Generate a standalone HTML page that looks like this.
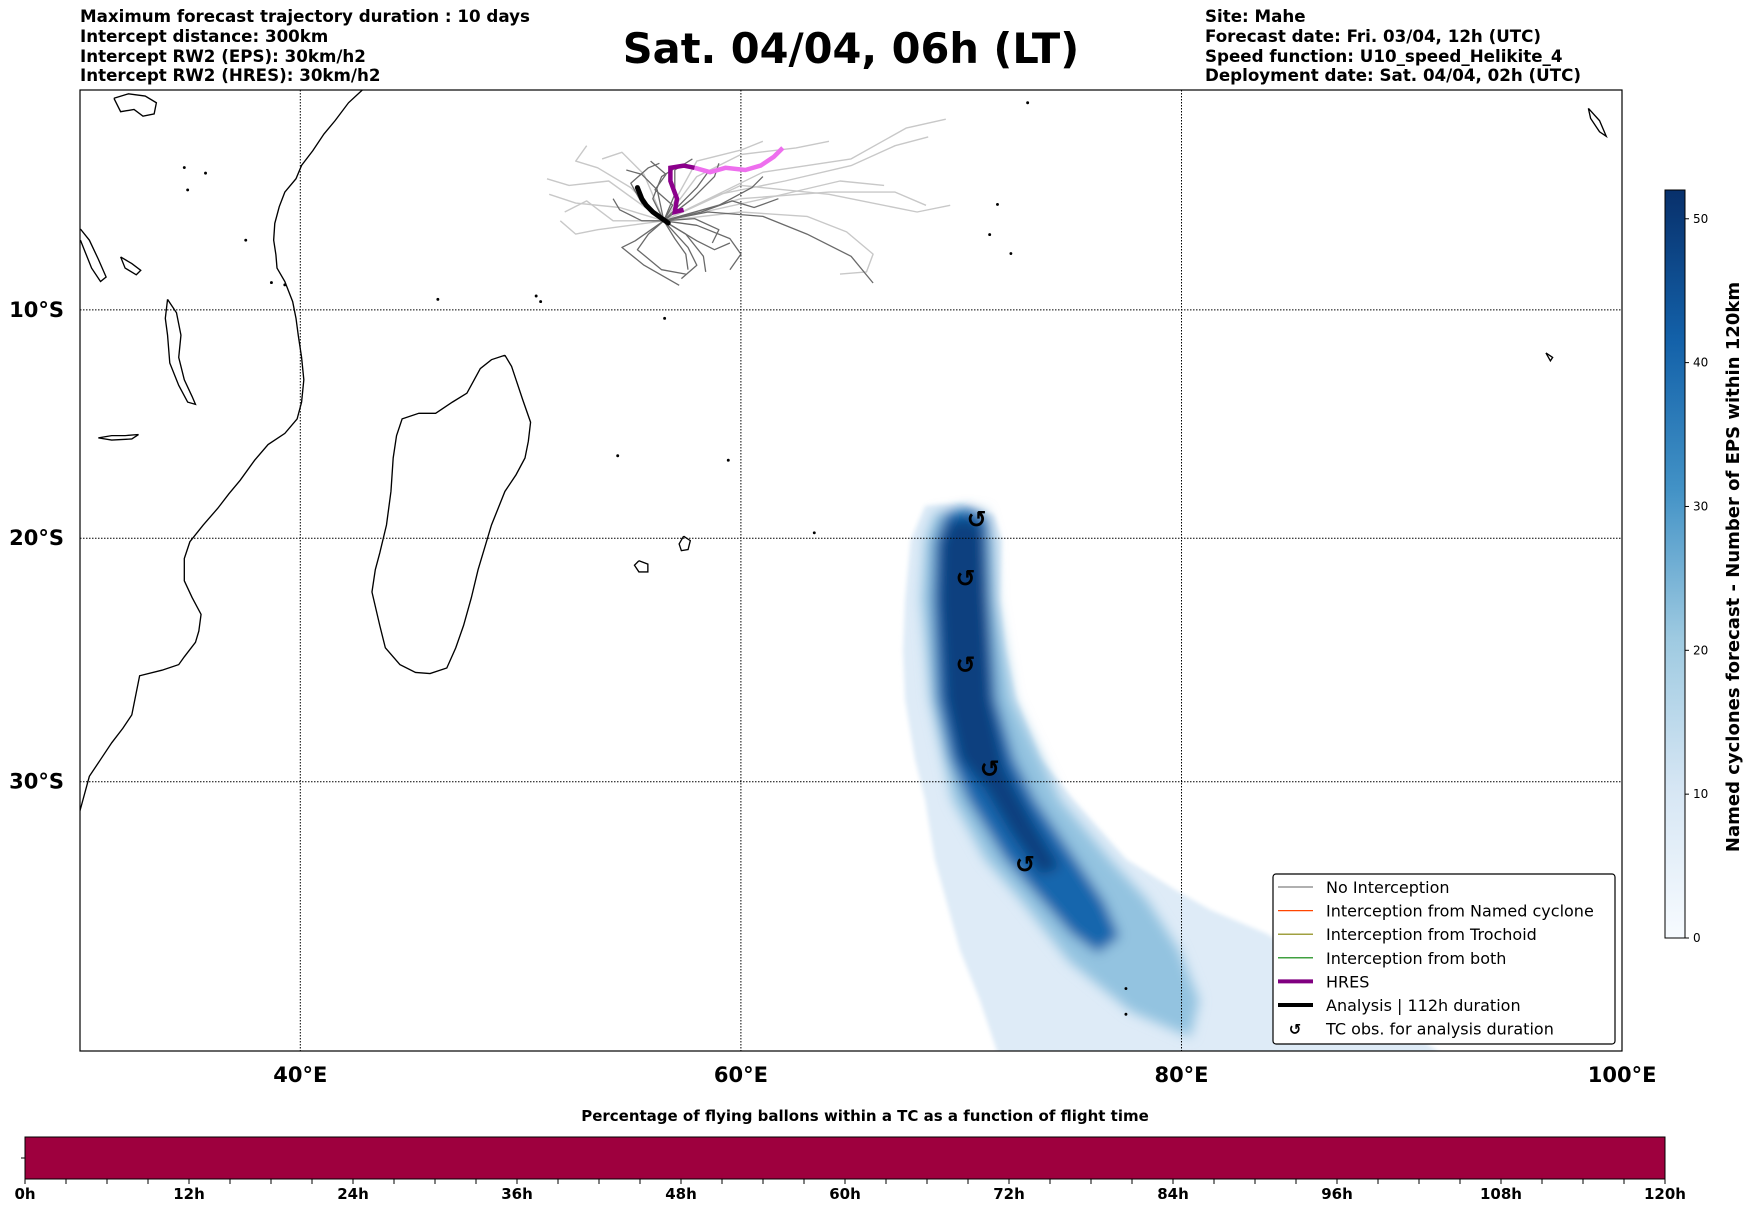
<!DOCTYPE html>
<html><head><meta charset="utf-8"><style>
html,body{margin:0;padding:0;background:#fff;}
svg{display:block;font-family:"Liberation Sans","DejaVu Sans",sans-serif;}
.hd{font-family:"DejaVu Sans","Liberation Sans",sans-serif;font-weight:bold;font-size:16.7px;}
</style></head><body>
<svg id="fig" width="1752" height="1213" viewBox="0 0 1752 1213" xmlns="http://www.w3.org/2000/svg">
<defs>
<filter id="blur" x="-20%" y="-20%" width="140%" height="140%"><feGaussianBlur stdDeviation="6"/></filter>
<filter id="blur2" x="-10%" y="-10%" width="120%" height="120%"><feGaussianBlur stdDeviation="2"/></filter>
<linearGradient id="blues" x1="0" y1="1" x2="0" y2="0">
<stop offset="0" stop-color="#f7fbff"/><stop offset="0.2" stop-color="#d6e6f4"/><stop offset="0.4" stop-color="#9ecae1"/><stop offset="0.6" stop-color="#4292c6"/><stop offset="0.8" stop-color="#1361a9"/><stop offset="1" stop-color="#08306b"/>
</linearGradient>
<clipPath id="mapclip"><rect x="80" y="90" width="1542" height="961"/></clipPath>
</defs>
<g class="hd">
<text x="80" y="22">Maximum forecast trajectory duration : 10 days</text>
<text x="80" y="42">Intercept distance: 300km</text>
<text x="80" y="62">Intercept RW2 (EPS):  30km/h2</text>
<text x="80" y="81">Intercept RW2 (HRES): 30km/h2</text>
</g>
<g class="hd">
<text x="1205" y="22">Site: Mahe</text>
<text x="1205" y="42">Forecast date: Fri. 03/04, 12h (UTC)</text>
<text x="1205" y="62">Speed function: U10_speed_Helikite_4</text>
<text x="1205" y="81">Deployment date: Sat. 04/04, 02h (UTC)</text>
</g>
<text x="851" y="63" text-anchor="middle" style="font-family:'DejaVu Sans',sans-serif;font-weight:bold;font-size:41.5px">Sat. 04/04, 06h (LT)</text>

<g id="map" clip-path="url(#mapclip)"></g>
<rect x="80" y="90" width="1542" height="961" fill="none" stroke="#000" stroke-width="1.2"/>
<g id="axes"></g>
<g id="legend"></g>
<g id="cbar"></g>
<g id="tbar"></g>
</svg>
<script>
// ---- data ----
const lonTicks=[40,60,80,100];
const latTicks=[10,20,30];
const cbarTicks=[0,10,20,30,40,50];
const cbarMax=52;
const timeMajor=[0,12,24,36,48,60,72,84,96,108,120];
const timeMax=120;
const tcObsLon=[70.7,70.2,70.2,71.3,72.9];
const tcObsLat=[-19.2,-21.7,-25.3,-29.5,-33.2];
// density contour polygons (lon, lat)
const densOuter=[[68.36,-18.6],[69.95,-18.5],[71.5,-19.0],[71.85,-20.1],[71.76,-22.6],[72.0,-24.7],[72.5,-26.7],[73.6,-29.1],[75.1,-30.7],[77.5,-33.0],[79.8,-34.2],[81.3,-34.9],[83.9,-35.8],[87.6,-37.8],[92.2,-40.3],[71.76,-40.3],[70.85,-38.2],[69.95,-36.4],[69.3,-34.5],[68.8,-33.0],[68.36,-30.7],[67.9,-29.1],[67.45,-26.7],[67.36,-24.7],[67.45,-22.6],[67.7,-20.1]];
const densMid=[[68.8,-18.9],[71.1,-18.8],[71.5,-20.1],[71.6,-22.6],[72.35,-26.7],[74.5,-30.7],[76.75,-33],[78.4,-34.5],[79.9,-36.4],[80.8,-38.2],[80.4,-39.5],[77.7,-38.6],[74.9,-36.8],[72.67,-34.5],[71.1,-33],[69.6,-30.7],[68.6,-26.7],[68.2,-22.6],[68.36,-20.1]];
const densCore=[[69.3,-18.9],[70.4,-18.7],[71.2,-19.2],[71.3,-22.6],[71.6,-26.7],[72.4,-29.1],[73.35,-30.7],[75.2,-33],[76.5,-34.6],[77.2,-35.9],[76.2,-36.5],[75.0,-35.8],[73.6,-34.5],[72.0,-33],[70.3,-30.7],[69.5,-29.1],[68.9,-26.7],[68.7,-22.6],[68.8,-20.1]];
const densPeak=[[69.4,-19.4],[70.3,-19.1],[70.95,-19.6],[71.1,-22.6],[71.3,-26.7],[72.0,-29.5],[73.3,-31.6],[74.5,-33.3],[73.6,-33.6],[72.2,-31.9],[71.1,-30.3],[69.95,-29.1],[69.3,-26.7],[69.04,-22.6],[69.1,-20.3]];
const hresLon=[57.4,57.0,57.1,56.8,56.8,57.4,57.9];
const hresLat=[-5.5,-5.6,-5.0,-4.2,-3.6,-3.5,-3.6];
const hresPinkLon=[57.9,58.6,59.3,60.2,60.9,61.5,61.9];
const hresPinkLat=[-3.6,-3.8,-3.6,-3.7,-3.5,-3.1,-2.7];
const analysisLon=[55.3,55.5,55.7,56.0,56.7];
const analysisLat=[-4.5,-5.0,-5.3,-5.6,-6.1];
const darkTrajs=[
[[56.5,-6],[55.5,-5.2],[55,-4.3],[55.8,-3.6],[56.3,-3.4]],
[[56.5,-6],[56,-5],[56.4,-4],[57.2,-3.5]],
[[56.5,-6],[57.3,-5.2],[58,-4.5],[58.5,-3.8]],
[[56.5,-6],[57,-6.8],[57.5,-7.5],[57.6,-8.2]],
[[56.5,-6],[55.8,-6.6],[55.3,-7.3],[56.4,-8.2],[57.5,-8.4]],
[[56.5,-6],[58,-6.2],[59.5,-6.8],[60,-7.5],[59.5,-8.2]],
[[56.5,-6],[58.5,-5.6],[61,-5.8],[63,-6.6],[65,-7.6],[66,-8.8]],
[[56.5,-6],[57.8,-5],[58.8,-4],[59,-3.4]],
[[56.5,-6],[55.5,-6],[54.5,-5.5],[54.2,-5]],
[[56.5,-6],[57.5,-6.6],[58.3,-7.6],[58.4,-8.3]],
[[56.5,-6],[57,-4.8],[57,-3.7],[57.8,-3.2]],
[[56.5,-6],[59,-5.3],[60.5,-4.5],[61,-4]],
[[56.5,-6],[58,-6.9],[58.8,-7.3],[59.5,-7]],
[[56.5,-6],[56.2,-4.6],[55.5,-3.9],[54.8,-3.7]],
[[56.5,-6],[55.2,-6.9],[54.6,-7.2],[55.6,-8.0],[57.2,-8.9]],
[[56.5,-6],[56.9,-5.3],[56.1,-4.6],[56.6,-3.9],[55.9,-3.3]],
[[56.5,-6],[58.2,-5.6],[59.6,-5.1],[60.6,-5.4],[61.7,-5.0]],
[[56.5,-6],[57.6,-7.2],[58.0,-8.0],[57.3,-8.6]],
[[56.5,-6],[57.9,-5.9],[59.0,-6.4],[58.7,-7.0]]
];
const lightTrajs=[
[[56.5,-6],[54.5,-5.4],[52.5,-5.2],[51.3,-4.8]],
[[56.5,-6],[55,-4.5],[53.5,-3.6],[52.5,-3.3],[53,-2.6]],
[[56.5,-6],[59,-4.8],[62,-4.2],[65,-3.5],[67,-2.6],[68.5,-2.2]],
[[56.5,-6],[60,-5],[64,-4.7],[67,-4.7],[68.4,-5.3]],
[[56.5,-6],[58,-4],[60,-3],[62.5,-2.7],[64,-2.4]],
[[56.5,-6],[60,-5.6],[63,-5.8],[64.8,-6.5],[66,-7.5],[65.7,-8.3],[64.5,-8.4]],
[[56.5,-6],[53.5,-6.4],[52.5,-6.6],[51.8,-6]],
[[56.5,-6],[60,-4.4],[64,-4.8],[68,-5.6],[69.5,-5.3]],
[[56.5,-6],[58,-3.3],[60,-2.8],[61,-2.4]],
[[56.5,-6],[54,-4.2],[52.2,-4.4],[51.2,-4.1]],
[[56.5,-6],[61,-3.8],[65,-3.2],[67.5,-1.8],[69.3,-1.4]],
[[56.5,-6],[54.2,-6.0],[53.0,-5.1],[52.0,-5.6]],
[[56.5,-6],[55.6,-3.9],[54.6,-2.9],[53.7,-3.2]],
[[56.5,-6],[61.5,-4.9],[64.5,-4.2],[66.5,-4.4]]
];
// ---- projection ----
const X0=80,PXD=22.03,R=PXD*180/Math.PI,Y0=88.4;
function px(lon){return X0+(lon-30)*PXD;}
function merc(lat){const r=Math.abs(lat)*Math.PI/180;return Math.log(Math.tan(Math.PI/4+r/2));}
function py(lat){return Y0+R*merc(lat);}
const NS='http://www.w3.org/2000/svg';
function mk(tag,attrs,parent){const e=document.createElementNS(NS,tag);for(const k in attrs)e.setAttribute(k,attrs[k]);parent.appendChild(e);return e;}
function pathLL(lons,lats){return lons.map((l,i)=>(i?'L':'M')+px(l).toFixed(1)+' '+py(lats[i]).toFixed(1)).join(' ');}
function ptsLL(arr){return arr.map(p=>px(p[0]).toFixed(1)+','+py(p[1]).toFixed(1)).join(' ');}
const map=document.getElementById('map');

// density
const dens=mk('g',{},map);


const o=mk('polygon',{points:ptsLL(densOuter),fill:'#deebf7',filter:'url(#blur2)'},dens);


const inner=mk('g',{filter:'url(#blur)'},dens);
const m1=mk('polygon',{points:ptsLL(densMid),fill:'#93c3e0'},inner);


const c1=mk('polygon',{points:ptsLL(densCore),fill:'#1966ad'},inner);


const c2=mk('polygon',{points:ptsLL(densPeak),fill:'#08407f'},inner);



// grid
lonTicks.forEach(l=>{const g=mk('line',{x1:px(l),x2:px(l),y1:90,y2:1051,stroke:'#000','stroke-width':1,'stroke-dasharray':'1.5,1.5'},map);

});
latTicks.forEach(l=>{const g=mk('line',{x1:80,x2:1622,y1:py(-l),y2:py(-l),stroke:'#000','stroke-width':1,'stroke-dasharray':'1.5,1.5'},map);

});

// coastlines
const coast=mk('g',{transform:'scale(1.117)',fill:'none',stroke:'#000','stroke-width':1.2},map);


const shapes=[
"M325,80 L312,92 300,108 290,120 280,135 270,148 265,160 255,172 250,185 246,200 245,215 247,228 248,240 255,252 262,270 265,285 267,300 270,320 272,340 270,360 266,375 255,388 240,398 228,412 215,430 205,442 195,455 182,470 170,485 165,500 165,520 172,535 180,550 178,565 175,575 165,588 160,595 145,600 125,605 122,620 118,640 110,652 100,665 90,680 80,695 71,728",
"M452,318 L458,328 462,340 468,358 475,378 473,395 470,410 462,425 452,440 446,455 440,470 434,490 428,510 422,535 415,560 408,580 400,598 385,603 372,602 358,595 345,580 340,560 333,530 336,510 340,495 346,470 350,440 352,410 355,390 360,375 375,370 390,370 405,360 418,352 430,330 440,322 452,318",
"M150,268 L158,280 162,300 160,320 165,340 172,355 175,362 168,360 160,345 152,325 150,300 148,285 150,268",
"M72,205 L80,215 88,232 95,248 90,252 82,240 76,225 72,215",
"M108,230 L118,236 126,242 122,246 112,240 108,230",
"M572,502 L580,505 580,512 572,512 568,506 572,502",
"M612,480 L618,484 616,492 610,493 608,487 612,480",
"M88,392 L100,390 112,390 124,389 118,393 100,394 88,392",
"M1422,97 L1432,108 1438,122 1432,118 1424,106 1422,97",
"M1384,316 L1390,320 1388,323 1384,316",
"M102,88 L115,84 130,86 140,92 138,102 128,104 120,98 108,100 102,88"
];
shapes.forEach((d,i)=>{const p=mk('path',{d:d},coast);

});
[[165,150],[184,155],[168,170],[220,215],[243,253],[255,255],[480,265],[595,285],[652,412],[553,408],[729,477],[893,183],[905,227],[886,210],[920,92],[1008,885],[1008,908],[484,270],[392,268]].forEach((p,i)=>{
const c=mk('circle',{cx:p[0],cy:p[1],r:1.3,fill:'#000',stroke:'none'},coast);

});

// trajectories
const trg=mk('g',{fill:'none','stroke-linejoin':'round'},map);


lightTrajs.forEach((t,i)=>{const p=mk('path',{d:pathLL(t.map(a=>a[0]),t.map(a=>a[1])),stroke:'#c8c8c8','stroke-width':1.4},trg);

});
darkTrajs.forEach((t,i)=>{const p=mk('path',{d:pathLL(t.map(a=>a[0]),t.map(a=>a[1])),stroke:'#6a6a6a','stroke-width':1.3},trg);

});
const an=mk('path',{d:pathLL(analysisLon,analysisLat),fill:'none',stroke:'#000','stroke-width':5,'stroke-linecap':'round'},map);


const hr=mk('path',{d:pathLL(hresLon,hresLat),fill:'none',stroke:'#8b008b','stroke-width':4.5},map);


const hp=mk('path',{d:pathLL(hresPinkLon,hresPinkLat),fill:'none',stroke:'#ee6fee','stroke-width':4.5},map);



// TC obs symbols
tcObsLon.forEach((l,i)=>{const t=mk('text',{x:px(l),y:py(tcObsLat[i])+8,'text-anchor':'middle','font-size':'24','font-weight':'bold','font-family':'DejaVu Sans,sans-serif'},map);
t.textContent='↺';

});

// axis labels
const axes=document.getElementById('axes');
lonTicks.forEach(l=>{const t=mk('text',{x:px(l),y:1082,'text-anchor':'middle','font-size':'21','font-weight':'bold','font-family':'DejaVu Sans,sans-serif'},axes);
t.textContent=l+'°E';

});
latTicks.forEach(l=>{const t=mk('text',{x:64,y:py(-l)+7,'text-anchor':'end','font-size':'21','font-weight':'bold','font-family':'DejaVu Sans,sans-serif'},axes);
t.textContent=l+'°S';

});

// legend
const lg=document.getElementById('legend');
mk('rect',{x:1273,y:874,width:342,height:170,rx:3,fill:'#fff',stroke:'#000','stroke-width':1.2},lg);
const items=[['No Interception','#808080',1.2],['Interception from Named cyclone','#ff4500',1.2],['Interception from Trochoid','#808000',1.2],['Interception from both','#008000',1.2],['HRES','#800080',4],['Analysis | 112h duration','#000',4],['TC obs. for analysis duration',null,0]];
items.forEach((it,i)=>{const y=887+i*23.6;
const g=mk('g',{},lg);


if(it[1])mk('line',{x1:1278,x2:1313,y1:y,y2:y,stroke:it[1],'stroke-width':it[2]},g);
else{const s=mk('text',{x:1295,y:y+6,'text-anchor':'middle','font-size':'15','font-weight':'bold','font-family':'DejaVu Sans,sans-serif'},g);s.textContent='↺';}
const t=mk('text',{x:1326,y:y+6,'font-size':'16','font-family':'DejaVu Sans,sans-serif'},g);t.textContent=it[0];});

// colorbar
const cb=document.getElementById('cbar');
const CB={x:1665,w:20,top:190,bot:938};
mk('rect',{x:CB.x,y:CB.top,width:CB.w,height:CB.bot-CB.top,fill:'url(#blues)',stroke:'#000','stroke-width':1},cb);
cbarTicks.forEach(v=>{const y=CB.bot-v/cbarMax*(CB.bot-CB.top);
mk('line',{x1:CB.x+CB.w,x2:CB.x+CB.w+4,y1:y,y2:y,stroke:'#000'},cb);
const t=mk('text',{x:CB.x+CB.w+8,y:y+4,'font-size':'12','font-family':'DejaVu Sans,sans-serif'},cb);t.textContent=v;

});
const cl=mk('text',{x:0,y:0,transform:'translate(1739,567) rotate(-90)','text-anchor':'middle','font-size':'18','font-weight':'bold','font-family':'DejaVu Sans,sans-serif'},cb);
cl.textContent='Named cyclones forecast - Number of EPS within 120km';



// time bar
const tb=document.getElementById('tbar');
const TB={x0:25,x1:1665,top:1137,bot:1179};
function tx(h){return TB.x0+h/timeMax*(TB.x1-TB.x0);}
const ttl=mk('text',{x:865,y:1121,'text-anchor':'middle','font-size':'15','font-weight':'bold','font-family':'DejaVu Sans,sans-serif'},tb);
ttl.textContent='Percentage of flying ballons within a TC as a function of flight time';


const br=mk('rect',{x:tx(0),y:TB.top,width:tx(timeMax)-tx(0),height:TB.bot-TB.top,fill:'#9e003e',stroke:'#000','stroke-width':1},tb);


mk('line',{x1:TB.x0-4,x2:TB.x0,y1:(TB.top+TB.bot)/2,y2:(TB.top+TB.bot)/2,stroke:'#000'},tb);
for(let h=0;h<=timeMax;h+=3){mk('line',{x1:tx(h),x2:tx(h),y1:TB.bot,y2:TB.bot+5,stroke:'#000'},tb);}
timeMajor.forEach(h=>{const t=mk('text',{x:tx(h),y:1199,'text-anchor':'middle','font-size':'15','font-weight':'bold','font-family':'DejaVu Sans,sans-serif'},tb);t.textContent=h+'h';

});
</script>
</body></html>
